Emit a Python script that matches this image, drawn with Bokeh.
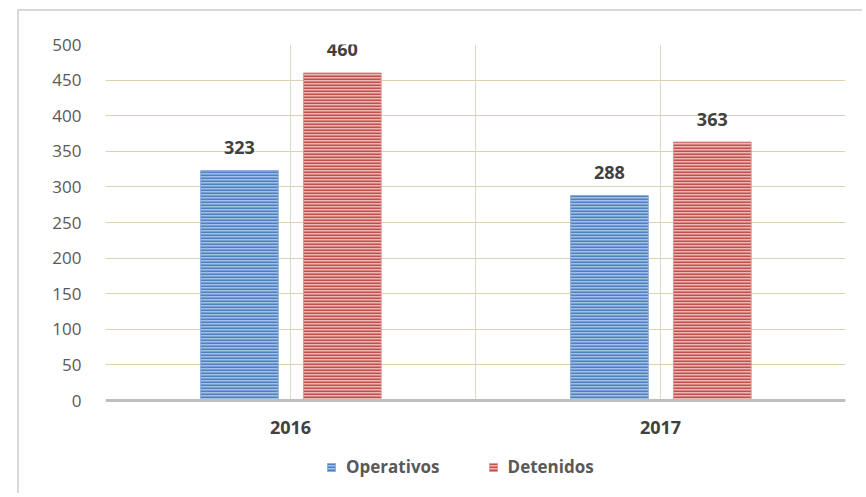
from bokeh.plotting import figure
from bokeh.models import (ColumnDataSource, FactorRange, Range1d, Span, Legend, LegendItem,
                          FixedTicker, Grid)
from bokeh.transform import dodge
from bokeh.core.properties import value
from bokeh.embed import file_html
from bokeh.resources import INLINE

years = ["2016", "2017"]
operativos = [323, 288]
detenidos = [460, 363]
series_names = ["Operativos", "Detenidos"]
y_ticks = [0, 50, 100, 150, 200, 250, 300, 350, 400, 450, 500]

src = ColumnDataSource(data=dict(
    years=years,
    operativos=operativos,
    detenidos=detenidos,
    op_lbl=[str(v) for v in operativos],
    de_lbl=[str(v) for v in detenidos],
    zero=[0] * len(years),
))

FONT = "Open Sans"

# frame extends below the zero line to hold the category labels and legend
p = figure(
    x_range=FactorRange(*years, range_padding=0),
    y_range=Range1d(-126.4, 500),
    width=845, height=484,
    output_backend="svg", toolbar_location=None,
    min_border_left=86, min_border_right=19,
    min_border_top=33, min_border_bottom=5,
    styles={"border-top": "2px solid #d9d9d9", "border-left": "2px solid #d9d9d9",
            "position": "relative", "left": "17px", "top": "9px"},
)
p.background_fill_color = "white"
p.border_fill_color = "white"
p.outline_line_color = None

# grids
p.ygrid.ticker = FixedTicker(ticks=y_ticks)
p.ygrid.grid_line_color = "#d9d4ae"
p.ygrid.grid_line_width = 1
p.xgrid.grid_line_color = None
p.add_layout(Grid(dimension=0, ticker=FixedTicker(ticks=[0, 0.5, 1, 1.5, 2]),
                  cross_bounds=(0, 500), grid_line_color="#dcd8c2", grid_line_width=1))

# axes
p.yaxis.ticker = FixedTicker(ticks=y_ticks)
p.yaxis.axis_line_color = None
p.yaxis.major_tick_line_color = None
p.yaxis.minor_tick_line_color = None
p.yaxis.major_label_standoff = 18
p.yaxis.major_label_text_font = FONT
p.yaxis.major_label_text_font_size = "17px"
p.yaxis.major_label_text_color = "#595959"
p.xaxis.visible = False

r1 = p.vbar(x=dodge("years", -0.138, range=p.x_range), top="operativos", width=0.21, source=src,
            fill_color="#a3bfe5", line_color="#8eaedb", line_width=1,
            hatch_pattern="-", hatch_scale=3, hatch_weight=2, hatch_color="#4f81bd")
r2 = p.vbar(x=dodge("years", 0.14, range=p.x_range), top="detenidos", width=0.21, source=src,
            fill_color="#ecb6b5", line_color="#dd9896", line_width=1,
            hatch_pattern="-", hatch_scale=3, hatch_weight=2, hatch_color="#c0504d")

# category axis line at zero
p.add_layout(Span(location=0, dimension="width", line_color="#bfbfbf", line_width=3))

# value labels
p.text(x=dodge("years", -0.138, range=p.x_range), y="operativos", text="op_lbl", source=src,
       text_align="center", text_baseline="alphabetic", y_offset=-23,
       text_font=value(FONT), text_font_size="18px", text_font_style="bold", text_color="#404040")
p.text(x=dodge("years", 0.14, range=p.x_range), y="detenidos", text="de_lbl", source=src,
       text_align="center", text_baseline="alphabetic", y_offset=-23,
       text_font=value(FONT), text_font_size="18px", text_font_style="bold", text_color="#404040")

# category labels
p.text(x="years", y="zero", text="years", source=src,
       text_align="center", text_baseline="middle", y_offset=27,
       text_font=value(FONT), text_font_size="18px", text_font_style="bold", text_color="#404040")

legend = Legend(
    items=[LegendItem(label=series_names[0], renderers=[r1]),
           LegendItem(label=series_names[1], renderers=[r2])],
    orientation="horizontal",
    location=(221, 12),
    padding=0, margin=0, spacing=48,
    glyph_width=10, glyph_height=10,
    label_standoff=10,
    label_text_font=FONT, label_text_font_size="17px", label_text_font_style="bold",
    label_text_color="#595959",
    border_line_color=None, background_fill_alpha=0,
)
p.add_layout(legend)

open("out.html", "w").write(file_html(p, INLINE))
